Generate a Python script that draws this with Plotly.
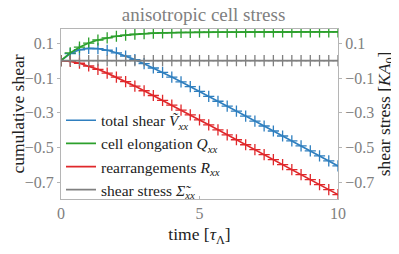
import plotly.graph_objects as go

# time points (tau_Lambda)
time = [k / 3 for k in range(31)]

total_shear = [0.0, 0.0408, 0.0627, 0.0708, 0.0690, 0.0598, 0.0453, 0.0269, 0.0058, -0.0174,
               -0.0420, -0.0678, -0.0944, -0.1215, -0.1490, -0.1769, -0.2049, -0.2331, -0.2615, -0.2900,
               -0.3185, -0.3470, -0.3756, -0.4042, -0.4328, -0.4615, -0.4901, -0.5187, -0.5474, -0.5760,
               -0.6047]
cell_elongation = [0.0, 0.0449, 0.0776, 0.1013, 0.1187, 0.1313, 0.1404, 0.1471, 0.1520, 0.1555,
                   0.1581, 0.1600, 0.1613, 0.1623, 0.1631, 0.1636, 0.1640, 0.1643, 0.1645, 0.1646,
                   0.1647, 0.1648, 0.1648, 0.1649, 0.1649, 0.1649, 0.1650, 0.1650, 0.1650, 0.1650,
                   0.1650]
rearrangements = [0.0, -0.0041, -0.0149, -0.0305, -0.0497, -0.0715, -0.0951, -0.1202, -0.1462, -0.1729,
                  -0.2001, -0.2278, -0.2557, -0.2838, -0.3121, -0.3405, -0.3689, -0.3974, -0.4260, -0.4546,
                  -0.4832, -0.5118, -0.5404, -0.5691, -0.5977, -0.6264, -0.6551, -0.6837, -0.7124, -0.7410,
                  -0.7697]
shear_stress = [0.0] * 31

y_ticks = [0.1, -0.1, -0.3, -0.5, -0.7]
x_ticks = [0, 5, 10]

names = ["total shear <i>Ṽ</i><sub><i>xx</i></sub>",
         "cell elongation <i>Q</i><sub><i>xx</i></sub>",
         "rearrangements <i>R</i><sub><i>xx</i></sub>",
         "shear stress <i>Σ̃</i><sub><i>xx</i></sub>"]
colors = ["#2f7fbf", "#2ca02c", "#e0282b", "#808080"]
series = [total_shear, cell_elongation, rearrangements, shear_stress]
axes = ["y", "y", "y", "y2"]

FONT = "Liberation Serif, serif"
fig = go.Figure()
for name, col, ys, ax in zip(names, colors, series, axes):
    fig.add_trace(go.Scatter(x=time, y=ys, mode="markers", yaxis=ax, showlegend=False,
                             marker=dict(symbol="cross-thin", size=8,
                                         line=dict(color=col, width=1.3))))
for name, col, ys, ax in zip(names, colors, series, axes):
    fig.add_trace(go.Scatter(x=time, y=ys, mode="lines", name=name, yaxis=ax,
                             line=dict(color=col, width=1.7)))

yr = [-0.795, 0.182]
# page body has an 8px margin, so the figure is 8px smaller and margins shifted
fig.update_layout(
    width=391, height=246,
    margin=dict(l=53, r=61, t=21, b=55, autoexpand=False),
    paper_bgcolor="white", plot_bgcolor="white",
    font=dict(family=FONT, size=13, color="#222"),
    title=dict(text="anisotropic cell stress", x=0.5, xanchor="center",
               y=1.0, yanchor="top", font=dict(family=FONT, size=19, color="#808080")),
    showlegend=True,
    legend=dict(x=0.0, y=-0.045, xanchor="left", yanchor="bottom",
                bgcolor="rgba(255,255,255,0)", font=dict(family=FONT, size=15.5, color="#222"),
                tracegroupgap=0, itemwidth=30),
    xaxis=dict(range=[0, 10], tickvals=x_ticks, showgrid=False, zeroline=False, automargin=False,
               showline=True, linecolor="#b5b5b5", linewidth=1, mirror=True,
               ticks="inside", ticklen=3, tickcolor="#b5b5b5",
               tickfont=dict(family=FONT, color="#808080", size=16),
               title=dict(text="time [<i>τ</i><sub>Λ</sub>]", standoff=6,
                          font=dict(family=FONT, size=17.5, color="#222"))),
    yaxis=dict(range=yr, tickvals=y_ticks, tickformat=".1f", showgrid=False, zeroline=False,
               automargin=False,
               showline=True, linecolor="#b5b5b5", linewidth=1,
               ticks="outside", ticklen=3, tickcolor="#b5b5b5",
               tickfont=dict(family=FONT, color="#808080", size=16),
               title=dict(text="cumulative shear", standoff=4,
                          font=dict(family=FONT, size=17.5, color="#222"))),
    yaxis2=dict(range=yr, tickvals=y_ticks, tickformat=".1f", overlaying="y", side="right",
                showgrid=False, zeroline=False, automargin=False,
                showline=True, linecolor="#b5b5b5", linewidth=1,
                ticks="outside", ticklen=3, tickcolor="#b5b5b5",
                tickfont=dict(family=FONT, color="#808080", size=16),
                title=dict(text="shear stress [<i>KA</i><sub>0</sub>]", standoff=4,
                           font=dict(family=FONT, size=17.5, color="#222"))),
)
fig.write_html("out.html")
